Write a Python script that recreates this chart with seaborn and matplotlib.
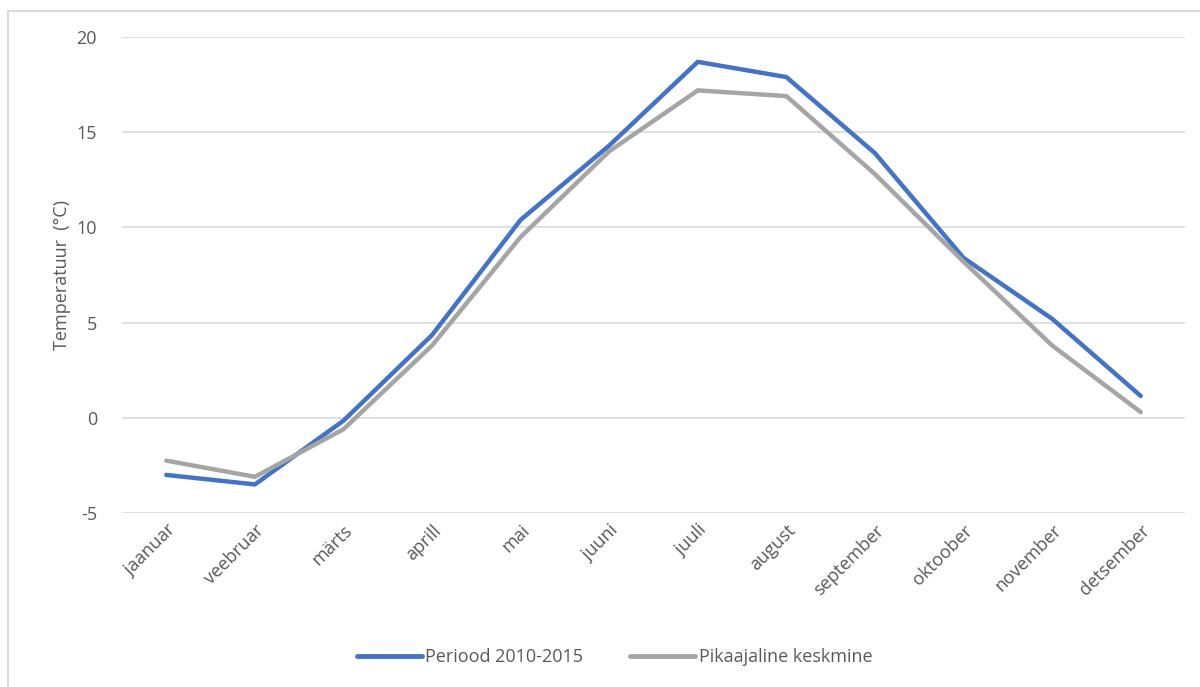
import matplotlib
matplotlib.use("Agg")
import matplotlib.pyplot as plt
from matplotlib.lines import Line2D
import seaborn as sns
import pandas as pd

months = ["jaanuar", "veebruar", "märts", "aprill", "mai", "juuni",
          "juuli", "august", "september", "oktoober", "november", "detsember"]
period_2010_2015 = [-3.0, -3.5, -0.15, 4.35, 10.4, 14.3, 18.7, 17.9, 13.9, 8.4, 5.2, 1.15]
long_term_mean = [-2.25, -3.1, -0.6, 3.8, 9.5, 14.0, 17.2, 16.9, 12.8, 8.2, 3.8, 0.3]
series_names = ["Periood 2010-2015", "Pikaajaline keskmine"]
y_ticks = [-5, 0, 5, 10, 15, 20]

palette = {series_names[0]: "#4472C4", series_names[1]: "#A5A5A5"}
text_color = "#595959"
fs = 13

df = pd.DataFrame({
    "kuu": list(range(len(months))) * 2,
    "temp": period_2010_2015 + long_term_mean,
    "seeria": [series_names[0]] * len(months) + [series_names[1]] * len(months),
})

sns.set_theme(style="white")
plt.rcParams["font.family"] = ["Open Sans", "DejaVu Sans"]

fig = plt.figure(figsize=(12, 6.87), dpi=100)
ax = fig.add_axes([0.1017, 0.2533, 0.8858, 0.6927])

sns.lineplot(data=df, x="kuu", y="temp", hue="seeria", palette=palette,
             linewidth=3.2, ax=ax, legend=False, sort=False)

ax.set_xlim(-0.5, len(months) - 0.5)
ax.set_ylim(-5, 20)
ax.set_yticks(y_ticks)
ax.set_yticklabels([str(t) for t in y_ticks], fontsize=fs, color=text_color)
ax.set_xticks(range(len(months)))
ax.set_xticklabels(months, rotation=45, ha="right", rotation_mode="anchor",
                   fontsize=fs, color=text_color)
ax.tick_params(axis="y", length=0, pad=18)
ax.tick_params(axis="x", length=0, pad=6)
ax.yaxis.grid(True, color="#D9D9D9", linewidth=1.2)
ax.set_axisbelow(True)
for s in ax.spines.values():
    s.set_visible(False)
ax.set_xlabel("")
ax.set_ylabel("Temperatuur  (°C)", fontsize=fs, color=text_color, labelpad=4)

handles = [Line2D([0], [0], color=palette[n], linewidth=3.5) for n in series_names]
fig.legend(handles, series_names, loc="center", bbox_to_anchor=(0.512, 0.043),
           ncol=2, frameon=False, fontsize=fs, labelcolor=text_color,
           handlelength=3.6, handletextpad=0.2, columnspacing=2.6)

# light frame around the chart area
fig.add_artist(Line2D([8 / 1200, 1.0], [1 - 11 / 687, 1 - 11 / 687],
                      transform=fig.transFigure, color="#D9D9D9", linewidth=1.5))
fig.add_artist(Line2D([8 / 1200, 8 / 1200], [0.0, 1 - 11 / 687],
                      transform=fig.transFigure, color="#D9D9D9", linewidth=1.5))

fig.savefig("out.png", dpi=100, facecolor="white")
